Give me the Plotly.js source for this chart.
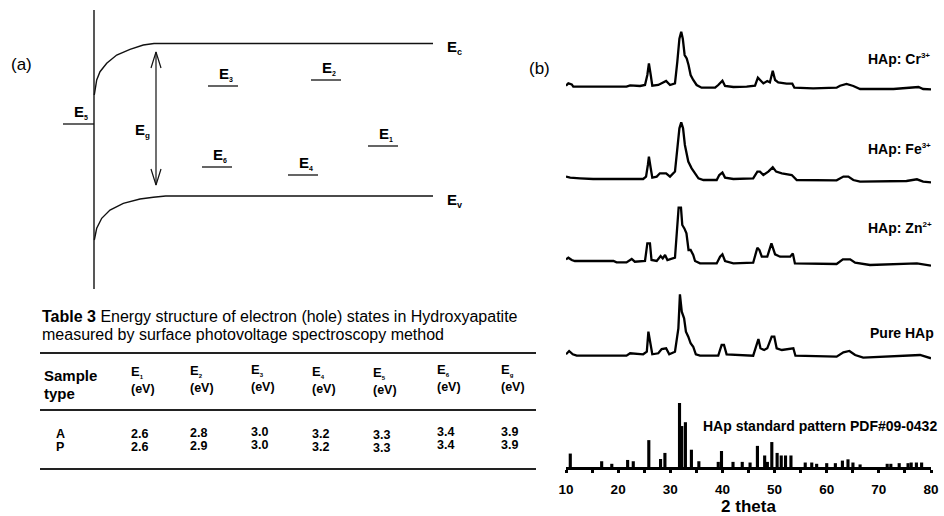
<!DOCTYPE html>
<html><head><meta charset="utf-8">
<script src="https://cdn.plot.ly/plotly-3.0.1.min.js"></script>
<style>html,body{margin:0;padding:0;background:#fff}#chart{width:944px;height:516px}</style>
</head><body><div id="chart"></div>
<script>
// ---------- (b) XRD patterns: 2 theta (deg) and intensity (a.u.) ----------
const crTheta = [10.0,10.45,11.1,11.4,21.6,22.3,24.2,25.15,25.6,25.9,26.25,26.55,27.7,28.7,29.2,29.95,30.9,31.35,31.75,32.1,32.4,32.75,33.15,33.5,33.9,34.4,35.05,36.0,38.6,39.2,40.0,40.5,42.1,44.65,46.25,46.8,47.3,47.85,48.6,49.1,49.65,50.1,50.7,52.3,53.4,53.8,57.4,61.9,62.55,63.8,65.1,66.4,72.8,76.0,77.6,78.5,80.0];
const crInt = [1,3.3,2.3,0,0,1.3,0.7,1.7,11.7,23.3,11.7,1,1.7,4.3,5.7,1.7,3.3,25,48,55,48,31.7,28.3,21.7,11.7,6.7,1.7,-1,-1,1.7,6,0.7,-0.3,0,1,9,6.7,3.3,5.7,4.3,16,6.7,4.3,3,3,-1,-1.7,-1,1,2.7,0.7,-2.3,-2.3,-0.7,-0.3,-2.3,-2.7];

const feTheta = [10.0,10.8,12.7,15.2,24.8,25.35,25.7,25.9,26.25,26.55,27.4,28.0,29.2,29.95,30.9,31.35,31.75,32.1,32.45,32.8,33.45,34.1,34.75,35.4,36.35,38.9,39.4,40.0,40.5,42.1,45.9,46.7,47.2,47.85,48.8,49.65,50.3,51.4,53.3,54.25,61.9,63.2,64.15,65.1,66.4,75.3,77.3,78.5,80.0];
const feInt = [1.7,0.7,0,-0.7,-0.7,1.7,13.3,21.7,10,0.7,1.7,5,5,1.7,6.7,30,50,56,50,33.3,16.7,10,5,0,-1.7,-1.7,3.3,5.7,0.7,-0.7,0,6.7,6.7,3.3,6.7,11,6.7,5,3.3,-1.7,-2,1.7,1.7,-1.7,-3.3,-2.7,-1,-3.3,-4];

const znTheta = [10.0,10.45,11.1,11.7,19.1,19.7,21.6,22.6,23.2,25.15,25.6,26.1,26.4,27.4,28.15,28.55,29.0,29.45,30.9,31.35,31.6,32.05,32.3,32.7,33.1,33.5,33.9,34.4,34.75,35.7,38.9,39.55,40.0,40.5,42.1,45.9,46.7,47.1,47.55,48.6,49.4,50.1,51.05,53.0,53.5,53.9,61.9,63.1,64.5,65.45,68.3,77.3,78.5,80.0];
const znInt = [2.3,4,1.7,0.7,0.7,-0.7,-0.7,2.7,0,0.7,18.3,18.3,1.7,0.7,5.7,3.3,6.7,1.7,4,33.3,54,54,36.7,33.3,28.3,11.7,11.7,6.7,0.7,-1.7,-1.7,5,7.3,0.7,-1.7,-1,14,11.7,5,5,18.3,7.3,5,5,8.3,-1.7,-2.3,2.3,2.3,-1,-3.3,-1.7,-2.7,-4];

const pureTheta = [10.0,10.6,11.3,12.05,21.6,22.3,24.8,25.5,25.8,26.1,26.55,27.7,28.35,29.2,29.8,30.9,31.55,31.85,32.2,32.65,33.0,33.45,33.9,34.4,34.9,35.7,39.2,39.85,40.3,40.8,45.9,46.9,47.3,48.0,48.6,49.45,49.95,50.4,51.4,53.6,54.0,61.9,63.2,64.35,65.45,67.0,76.6,77.9,80.0];
const pureInt = [0.7,4,0.7,-0.7,-0.7,1.7,0.7,3.3,23.3,13.3,0.7,1.7,6,6.7,0.7,3.3,26.7,60.7,43.3,36.7,23.3,18.3,11.7,8.3,0.7,-0.7,-0.7,10,10,0.7,-0.7,16,6.7,5,6.7,18.3,18.3,6.7,5,6.7,-0.7,-1.7,2.7,4,0,-2.7,-0.7,0,-3.3];

// standard pattern PDF#09-0432 (relative intensity, %)
const stdTheta = [10.82,16.84,18.78,21.82,22.90,25.88,28.13,28.97,31.77,32.20,32.90,34.05,35.48,39.20,39.82,42.03,43.80,45.30,46.71,48.10,48.62,49.47,50.49,51.28,52.10,53.14,55.88,57.13,58.07,60.0,61.66,63.01,64.08,65.03,66.4,71.6,72.3,73.9,75.6,76.2,77.2,78.2];
const stdRel = [21,9,5,11,9,42,12.5,22,100,64,70,27,9,8,25,8,8,7,33,18,8,39,22,18,18,18,7,7,5,6,6,10,12,7,4,5,5,6,6,7,7,7];

const seriesBase = ['HAp: Cr','HAp: Fe','HAp: Zn','Pure HAp','HAp standard pattern PDF#09-0432'];
const seriesCharge = ['3+','3+','2+','',''];
const xTickVals = [10,20,30,40,50,60,70,80];

// ---------- Table 3 ----------
const tableTitle1 = '<b>Table 3</b> Energy structure of electron (hole) states in Hydroxyapatite';
const tableTitle2 = 'measured by surface photovoltage spectroscopy method';
const tableColSubs = ['1','2','3','4','5','6','g'];
const rowLabels = ['A','P'];
const rowA = ['2.6','2.8','3.0','3.2','3.3','3.4','3.9'];
const rowP = ['2.6','2.9','3.0','3.2','3.3','3.4','3.9'];

// ---------- (a) band diagram (schematic, diagram units) ----------
const levelSubs = ['1','2','3','4','5','6'];
const levelLeft = [368,311,208,288,63,202];
const levelPos = [146,80,86,175,124,167];
const ecBendX = [94.3,96.7,100,106.7,116.7,130,143.3,154,433];
const ecBendY = [95,80,71.7,63.3,55,49.3,45,43.5,43.5];
const evBendX = [94.3,96.7,101.7,110,123.3,140,153.3,165.7,433];
const evBendY = [240,228.3,218.3,210,203.3,199,197.3,196,196];

// ---------------- build ----------------
const F = 'Liberation Sans, Arial, Helvetica, sans-serif';
const sub = (s,px)=>'<sub><span style="font-size:'+px+'px">'+s+'</span></sub>';
const sup = (s,px)=>'<sup><span style="font-size:'+px+'px">'+s+'</span></sup>';
const offsets = [380.3, 288.7, 205.3, 112];
const stdScale = 0.64;
const traces = [];
[[crTheta,crInt],[feTheta,feInt],[znTheta,znInt],[pureTheta,pureInt]].forEach((s,i)=>{
  traces.push({type:'scatter',mode:'lines',x:s[0],y:s[1].map(v=>v+offsets[i]),
    line:{color:'#000',width:2.3},xaxis:'x',yaxis:'y',hoverinfo:'skip'});
});
traces.push({type:'bar',x:stdTheta,y:stdRel.map(v=>v*stdScale),width:0.6,
  marker:{color:'#000',line:{width:0}},xaxis:'x',yaxis:'y',hoverinfo:'skip'});

// diagram lines
const dl = {color:'#111',width:1.4};
traces.push({type:'scatter',mode:'lines',x:[94,94],y:[10,289],line:dl,xaxis:'x2',yaxis:'y2',hoverinfo:'skip'});
traces.push({type:'scatter',mode:'lines',x:ecBendX,y:ecBendY,line:dl,xaxis:'x2',yaxis:'y2',hoverinfo:'skip'});
traces.push({type:'scatter',mode:'lines',x:evBendX,y:evBendY,line:dl,xaxis:'x2',yaxis:'y2',hoverinfo:'skip'});
const lx=[],ly=[];
levelLeft.forEach((x0,i)=>{ const w = (i===4)?31:30; lx.push(x0,x0+w,null); ly.push(levelPos[i],levelPos[i],null); });
traces.push({type:'scatter',mode:'lines',x:lx,y:ly,line:{color:'#111',width:1.3},xaxis:'x2',yaxis:'y2',hoverinfo:'skip'});
// Eg double arrow
const ax=156, aTop=ecBendY[7]+8.5, aBot=evBendY[7]-11;
traces.push({type:'scatter',mode:'lines',
  x:[ax,ax,null,ax-5,ax,ax+5,null,ax-5,ax,ax+5],
  y:[aTop,aBot,null,aTop+16,aTop,aTop+16,null,aBot-16,aBot,aBot-16],
  line:{color:'#111',width:1.2},xaxis:'x2',yaxis:'y2',hoverinfo:'skip'});

const ann = [];
function T(x,y,text,size,opts){ ann.push(Object.assign({xref:'x2',yref:'y2',x:x,y:y,text:text,showarrow:false,
  xanchor:'left',yanchor:'middle',font:{family:F,size:size,color:'#000'}},opts||{})); }

T(9,64,'(a)',17);
T(527,68,'(b)',17);
T(445,47,'<b>E'+sub('c',9)+'</b>',15);
T(445,200,'<b>E'+sub('v',9)+'</b>',15);
T(133,130,'<b>E'+sub('g',8)+'</b>',15);
levelSubs.forEach((n,i)=>{ T(levelLeft[i]+9, levelPos[i]-12, '<b>E'+sub(n,7)+'</b>', 15); });

// table
T(40,316,tableTitle1,16);
T(40,334,tableTitle2,16);
const colX = [129,188,249,310,371,435,499];
const colDy = [0,-1,-2,0,1,-2,-2];
T(42,375,'<b>Sample</b>',15);
T(42,393,'<b>type</b>',15);
tableColSubs.forEach((c,i)=>{
  T(colX[i],372+colDy[i],'<b>E'+sub(c,6)+'</b>',13);
  T(colX[i],389+colDy[i],'<b>(eV)</b>',12.5);
  T(colX[i],434+colDy[i],'<b>'+rowA[i]+'</b>',12.5);
  T(colX[i],446.5+colDy[i],'<b>'+rowP[i]+'</b>',12.5);
});
T(54,434,'<b>'+rowLabels[0]+'</b>',12.5);
T(54,447,'<b>'+rowLabels[1]+'</b>',12.5);

// XRD labels
const labX = [866,866,866,868,701];
const labY = [59,149,228,333,426];
seriesBase.forEach((n,i)=>T(labX[i],labY[i],'<b>'+n+(seriesCharge[i]?sup(seriesCharge[i],8):'')+'</b>',14));

const shapes = [353,410,469].map(y=>({type:'line',xref:'x2',yref:'y2',x0:40,x1:536,y0:y,y1:y,line:{color:'#222',width:2}}));

const layout = {
  width:944,height:516,margin:{l:0,r:0,t:0,b:0},paper_bgcolor:'#fff',plot_bgcolor:'rgba(0,0,0,0)',
  showlegend:false,font:{family:F,color:'#000'},
  xaxis:{domain:[566/944,931/944],range:[10,80],anchor:'y',showline:true,linewidth:3,linecolor:'#000',
    ticks:'outside',ticklen:3,tickwidth:3,tickcolor:'#000',tickvals:xTickVals,
    tickfont:{family:F,size:13.5,weight:'bold',color:'#000'},ticklabelstandoff:5,
    showgrid:false,zeroline:false,
    minor:{dtick:5,tick0:10,ticks:'outside',ticklen:3,tickwidth:3,tickcolor:'#000',showgrid:false},
    title:{text:'2 theta',font:{family:F,size:17,weight:'bold',color:'#000'},standoff:6}},
  yaxis:{domain:[49/516,1],range:[0,467],visible:false,fixedrange:true},
  xaxis2:{domain:[0,1],range:[0,944],visible:false,anchor:'y2'},
  yaxis2:{domain:[0,1],range:[516,0],visible:false,anchor:'x2'},
  annotations:ann, shapes:shapes
};
Plotly.newPlot('chart',traces,layout,{staticPlot:true,displayModeBar:false});
</script></body></html>
